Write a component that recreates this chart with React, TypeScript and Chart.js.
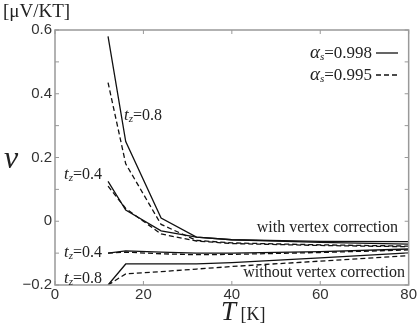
import React, { useEffect, useRef } from "react";
import { Chart, registerables } from "chart.js";
Chart.register(...registerables);

// Temperatures (K)
const temps = [12, 16, 24, 32, 40, 60, 80];
// with vertex correction
const withTz08As998 = [0.58, 0.25, 0.01, -0.05, -0.058, -0.063, -0.064];
const withTz08As995 = [0.435, 0.18, -0.01, -0.06, -0.068, -0.074, -0.078];
const withTz04As998 = [0.125, 0.035, -0.03, -0.05, -0.058, -0.066, -0.072];
const withTz04As995 = [0.11, 0.04, -0.04, -0.062, -0.07, -0.076, -0.08];
// without vertex correction
const woTz04As998 = [-0.1, -0.093, -0.097, -0.1, -0.1, -0.095, -0.087];
const woTz04As995 = [-0.1, -0.097, -0.102, -0.105, -0.104, -0.098, -0.09];
const woTz08As998 = [-0.2, -0.134, -0.134, -0.134, -0.13, -0.115, -0.099];
const woTz08As995 = [-0.2, -0.165, -0.158, -0.15, -0.142, -0.125, -0.108];

const xTickValues = [0, 20, 40, 60, 80];
const yTickLabels: Record<number, string> = { 6: "0.6", 4: "0.4", 2: "0.2", 0: "0", [-2]: "\u22120.2" };

const SERIF = "'Liberation Serif', 'DejaVu Serif', serif";
const SANS = "'Liberation Sans', Arial, sans-serif";

type Part = { t: string; font: string; dy?: number };
function drawParts(ctx: CanvasRenderingContext2D, x: number, y: number, parts: Part[], align: "left" | "right" = "left") {
  let total = 0;
  for (const p of parts) {
    ctx.font = p.font;
    total += ctx.measureText(p.t).width;
  }
  let cx = align === "right" ? x - total : x;
  ctx.textAlign = "left";
  ctx.textBaseline = "alphabetic";
  for (const p of parts) {
    ctx.font = p.font;
    ctx.fillText(p.t, cx, y + (p.dy || 0));
    cx += ctx.measureText(p.t).width;
  }
}

function tzLabel(val: string): Part[] {
  return [
    { t: "t", font: `italic 17px ${SERIF}` },
    { t: "z", font: `italic 11px ${SERIF}`, dy: 2 },
    { t: "=" + val, font: `16px ${SERIF}` },
  ];
}

const decorPlugin = {
  id: "decor",
  afterDraw(chart: any) {
    const { ctx, chartArea } = chart;
    const { left, right, top, bottom } = chartArea;
    const xs = chart.scales.x;
    const ys = chart.scales.y;
    ctx.save();
    // frame
    ctx.strokeStyle = "#999";
    ctx.lineWidth = 1.5;
    ctx.strokeRect(left, top, right - left, bottom - top);
    // inward ticks
    ctx.lineWidth = 1;
    ctx.beginPath();
    for (let i = -2; i <= 6; i++) {
      const py = ys.getPixelForValue(i / 10);
      ctx.moveTo(left, py);
      ctx.lineTo(left + 4, py);
      ctx.moveTo(right, py);
      ctx.lineTo(right - 4, py);
    }
    for (const v of xTickValues) {
      const px = xs.getPixelForValue(v);
      ctx.moveTo(px, bottom);
      ctx.lineTo(px, bottom - 4);
      ctx.moveTo(px, top);
      ctx.lineTo(px, top + 4);
    }
    ctx.stroke();

    ctx.fillStyle = "#222";
    // axis titles
    drawParts(ctx, 3, 17, [{ t: "[\u03bcV/KT]", font: `19px ${SERIF}` }]);
    drawParts(ctx, 4, 168, [{ t: "\u03bd", font: `italic 32px ${SERIF}` }]);
    drawParts(ctx, 221, 320, [
      { t: "T", font: `italic 27px ${SERIF}` },
      { t: " [K]", font: `18px ${SERIF}` },
    ]);

    // legend
    drawParts(ctx, 372, 58, [
      { t: "\u03b1", font: `italic 19px ${SERIF}` },
      { t: "s", font: `italic 11px ${SERIF}`, dy: 2 },
      { t: "=0.998", font: `17px ${SERIF}` },
    ], "right");
    drawParts(ctx, 372, 80, [
      { t: "\u03b1", font: `italic 19px ${SERIF}` },
      { t: "s", font: `italic 11px ${SERIF}`, dy: 2 },
      { t: "=0.995", font: `17px ${SERIF}` },
    ], "right");
    ctx.strokeStyle = "#111";
    ctx.lineWidth = 1.3;
    ctx.beginPath();
    ctx.moveTo(376, 53);
    ctx.lineTo(398, 53);
    ctx.stroke();
    ctx.setLineDash([5, 3]);
    ctx.beginPath();
    ctx.moveTo(376, 75);
    ctx.lineTo(398, 75);
    ctx.stroke();
    ctx.setLineDash([]);

    // curve annotations
    drawParts(ctx, 124, 120, tzLabel("0.8"));
    drawParts(ctx, 64, 179, tzLabel("0.4"));
    drawParts(ctx, 64, 257, tzLabel("0.4"));
    drawParts(ctx, 64, 283, tzLabel("0.8"));
    drawParts(ctx, 398, 232, [{ t: "with vertex correction", font: `16px ${SERIF}` }], "right");
    drawParts(ctx, 405, 277, [{ t: "without vertex correction", font: `16px ${SERIF}` }], "right");
    ctx.restore();
  },
};

function series(values: number[], dashed: boolean) {
  return {
    data: temps.map((t, i) => ({ x: t, y: values[i] })),
    borderColor: "#111",
    borderWidth: 1.3,
    borderDash: dashed ? [5, 3] : [],
    pointRadius: 0,
    fill: false,
    tension: 0,
  };
}

export default function App() {
  const ref = useRef<HTMLCanvasElement>(null);
  useEffect(() => {
    document.body.style.margin = "0";
    const ctx = ref.current!.getContext("2d")!;
    const chart = new Chart(ctx, {
      type: "line",
      data: {
        datasets: [
          series(withTz08As998, false),
          series(withTz08As995, true),
          series(withTz04As998, false),
          series(withTz04As995, true),
          series(woTz04As998, false),
          series(woTz04As995, true),
          series(woTz08As998, false),
          series(woTz08As995, true),
        ] as any,
      },
      options: {
        animation: false,
        responsive: false,
        devicePixelRatio: 1,
        layout: { padding: { top: 30, right: 9, left: 0, bottom: 0 } },
        plugins: { legend: { display: false }, tooltip: { enabled: false } },
        scales: {
          x: {
            type: "linear",
            min: 0,
            max: 80,
            ticks: {
              stepSize: 20,
              color: "#333",
              font: { family: SANS, size: 15 },
              padding: 1,
              maxRotation: 0,
            },
            grid: { display: false, drawTicks: false },
            border: { display: false },
            afterFit: (s: any) => {
              s.height = 42;
            },
          },
          y: {
            type: "linear",
            min: -0.2,
            max: 0.6,
            ticks: {
              stepSize: 0.1,
              autoSkip: false,
              color: "#333",
              font: { family: SANS, size: 15 },
              padding: 3,
              callback: (v: any) => yTickLabels[Math.round(Number(v) * 10)] ?? "",
            },
            grid: { display: false, drawTicks: false },
            border: { display: false },
            afterFit: (s: any) => {
              s.width = 55;
            },
          },
        },
      } as any,
      plugins: [decorPlugin],
    });
    return () => chart.destroy();
  }, []);
  return (
    <div style={{ width: 418, height: 327 }}>
      <canvas ref={ref} width={418} height={327} style={{ display: "block" }} />
    </div>
  );
}
